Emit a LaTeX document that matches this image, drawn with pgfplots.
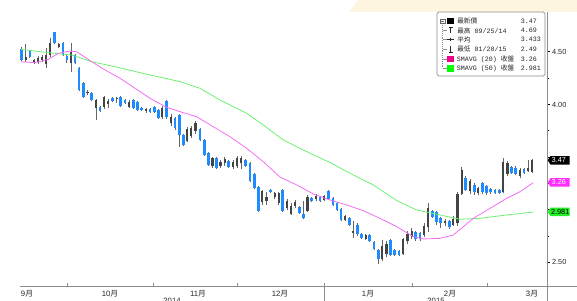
\documentclass[border=0pt]{standalone}
\usepackage{pgfplots}
\pgfplotsset{compat=1.18}
\usepackage{pgfplotstable}
\usepackage{fontspec}
\setmainfont{Liberation Sans}
\setmonofont{Liberation Mono}
\newfontfamily\cjk{Noto Sans CJK TC}
\definecolor{candleblue}{HTML}{1E8CFF}
\definecolor{candleup}{HTML}{444444}
\definecolor{wick}{HTML}{666666}
\definecolor{maA}{HTML}{F46EF4}
\definecolor{maB}{HTML}{6EEE6E}
\definecolor{tagA}{HTML}{FF2EFF}
\definecolor{tagB}{HTML}{22F022}
\definecolor{cream}{HTML}{FDF5E0}
\definecolor{axgray}{HTML}{8C8C8C}
\definecolor{txt}{HTML}{262626}
\newcommand\tickfont{\fontsize{5.8}{6.5}\selectfont}
\newcommand\ytickfont{\fontsize{5.5}{6.2}\selectfont}
\newcommand\legfont{\fontsize{5}{5.6}\selectfont\ttfamily}

% x = pixel position of the candle, o h l c = open high low close
\pgfplotstableread{
x o h l c
21.7 4.53 4.55 4.41 4.42
25.8 4.42 4.57 4.40 4.45
29.9 4.51 4.52 4.44 4.45
34.0 4.39 4.43 4.38 4.42
38.1 4.40 4.46 4.38 4.44
42.2 4.42 4.47 4.40 4.45
46.3 4.38 4.54 4.35 4.47
50.4 4.47 4.63 4.45 4.58
54.5 4.69 4.69 4.57 4.58
58.6 4.55 4.58 4.54 4.57
63.0 4.58 4.59 4.46 4.47
66.9 4.46 4.47 4.39 4.42
71.0 4.39 4.58 4.31 4.50
75.0 4.47 4.48 4.38 4.39
79.0 4.35 4.36 4.13 4.14
83.3 4.20 4.21 4.06 4.07
87.5 4.11 4.14 4.09 4.12
91.7 4.11 4.12 4.03 4.04
96.0 3.97 4.05 3.85 4.04
100.0 3.98 3.99 3.93 3.94
104.3 3.98 4.08 3.96 4.07
108.3 4.00 4.05 3.97 4.03
112.7 4.06 4.07 4.02 4.03
116.7 4.05 4.07 4.01 4.06
120.7 4.07 4.08 3.98 3.99
125.0 4.04 4.05 4.00 4.01
129.3 3.98 4.04 3.97 4.02
133.3 4.04 4.05 3.96 3.97
137.5 4.02 4.03 3.94 3.95
141.7 3.97 3.98 3.94 3.95
146.0 3.94 3.97 3.92 3.96
150.0 3.96 3.97 3.92 3.93
154.3 3.98 3.99 3.92 3.93
158.3 3.95 3.96 3.86 3.87
162.3 3.88 3.99 3.86 3.97
166.7 4.03 4.04 3.86 3.88
171.0 3.82 3.91 3.80 3.88
175.0 3.87 3.88 3.76 3.78
179.3 3.90 3.91 3.60 3.71
183.3 3.71 3.72 3.61 3.62
187.3 3.65 3.79 3.64 3.77
191.3 3.70 3.80 3.68 3.78
195.5 3.75 3.84 3.72 3.82
200.0 3.77 3.78 3.65 3.66
204.3 3.66 3.67 3.51 3.52
208.3 3.54 3.55 3.42 3.43
212.5 3.42 3.50 3.40 3.49
216.5 3.49 3.50 3.39 3.40
220.5 3.42 3.47 3.40 3.45
224.7 3.44 3.50 3.42 3.48
228.7 3.46 3.47 3.40 3.41
233.0 3.41 3.47 3.39 3.45
237.0 3.42 3.51 3.40 3.49
241.3 3.44 3.51 3.39 3.49
245.3 3.47 3.48 3.41 3.42
250.0 3.44 3.45 3.26 3.27
254.3 3.34 3.35 3.20 3.21
258.3 3.22 3.23 2.98 2.99
262.3 3.07 3.19 3.05 3.18
266.5 3.08 3.17 3.05 3.12
270.7 3.19 3.20 3.16 3.17
274.8 3.12 3.17 3.10 3.16
278.8 3.06 3.17 3.05 3.16
282.8 3.19 3.20 2.98 2.99
287.0 3.02 3.10 3.00 3.08
291.2 2.96 3.06 2.95 3.04
295.3 3.04 3.09 3.02 3.07
299.3 3.03 3.04 2.96 2.97
303.3 2.96 3.08 2.91 2.92
307.5 2.99 3.14 2.98 3.12
311.7 3.11 3.12 3.07 3.08
316.0 3.10 3.15 3.08 3.13
320.0 3.12 3.13 3.07 3.08
324.3 3.09 3.14 3.08 3.13
328.7 3.18 3.19 3.09 3.10
333.0 3.11 3.12 3.04 3.05
337.0 3.06 3.07 2.99 3.00
341.0 3.01 3.02 2.89 2.90
345.2 2.90 2.95 2.89 2.94
349.3 2.92 2.93 2.85 2.86
353.3 2.78 2.89 2.73 2.80
357.3 2.86 2.87 2.75 2.77
361.5 2.77 2.78 2.72 2.73
365.7 2.72 2.77 2.71 2.76
369.8 2.76 2.77 2.69 2.70
374.0 2.69 2.70 2.62 2.63
378.2 2.62 2.63 2.49 2.53
382.3 2.53 2.71 2.51 2.66
386.5 2.58 2.70 2.55 2.68
390.7 2.71 2.72 2.56 2.57
394.8 2.62 2.63 2.56 2.57
399.0 2.61 2.62 2.56 2.57
403.2 2.58 2.73 2.57 2.72
407.5 2.70 2.80 2.68 2.77
411.7 2.74 2.83 2.72 2.80
415.8 2.79 2.80 2.70 2.72
420.0 2.78 2.79 2.70 2.72
424.2 2.76 2.87 2.74 2.85
428.3 2.84 3.06 2.79 3.02
432.5 2.99 3.00 2.92 2.93
436.7 2.98 2.99 2.86 2.88
440.8 2.92 2.93 2.83 2.87
445.0 2.87 2.91 2.85 2.89
449.2 2.89 2.90 2.82 2.84
453.3 2.86 2.94 2.85 2.91
457.5 2.87 3.17 2.85 3.15
461.7 3.15 3.41 3.14 3.38
465.8 3.30 3.32 3.18 3.19
470.0 3.18 3.29 3.15 3.27
474.2 3.24 3.25 3.14 3.17
478.3 3.16 3.22 3.14 3.21
482.5 3.25 3.26 3.15 3.17
486.7 3.23 3.24 3.14 3.16
490.8 3.20 3.21 3.15 3.17
495.0 3.19 3.20 3.15 3.16
499.2 3.19 3.20 3.15 3.16
503.3 3.17 3.49 3.16 3.45
507.5 3.34 3.46 3.32 3.44
511.7 3.41 3.42 3.34 3.35
515.8 3.40 3.42 3.33 3.34
520.0 3.32 3.40 3.30 3.38
524.0 3.39 3.40 3.34 3.35
528.2 3.37 3.47 3.36 3.40
532.3 3.36 3.48 3.35 3.47
}\candles

\pgfplotstableread{
x v
21 4.406
35 4.397
48.3 4.429
58.3 4.486
70 4.508
76.7 4.501
81.7 4.470
91.7 4.406
105 4.328
120 4.249
135 4.154
150 4.059
166.7 3.973
180 3.932
196.7 3.884
213.3 3.789
230 3.694
246.7 3.584
263.3 3.457
280 3.311
296.7 3.236
313.3 3.150
330 3.093
346.7 3.046
363.3 2.991
380 2.919
396.7 2.840
413.3 2.745
423 2.723
440 2.729
453.3 2.761
463.3 2.840
473.3 2.919
490 3.014
506.7 3.109
520 3.172
533.3 3.258
}\smaA

\pgfplotstableread{
x v
21 4.524
48.3 4.492
71.7 4.470
91.7 4.406
115 4.359
150 4.280
180 4.217
200 4.154
220 4.043
246.7 3.916
263.3 3.805
283.3 3.663
306.7 3.552
330 3.449
353.3 3.330
373.3 3.236
396.7 3.088
416.7 2.998
440 2.951
460 2.910
480 2.919
506.7 2.951
533.3 2.979
}\smaB

\begin{document}
\begin{tikzpicture}
\useasboundingbox (0,0) rectangle (432.75pt,225pt);
% cream band at the top
\begin{scope}[x=0.75pt,y=-0.75pt,yshift=225pt]
\fill[cream] (349,12) -- (358,0) -- (577,0) -- (577,12) -- cycle;
\end{scope}
\begin{axis}[
  at={(15pt,10.5pt)}, anchor=south west,
  scale only axis, width=395.25pt, height=205.5pt,
  xmin=20, xmax=547, ymin=2.2764, ymax=4.8784,
  axis x line*=bottom, axis y line*=right,
  axis line style={axgray, line width=0.6pt},
  clip=false,
  xtick={67,153,237,324,412,487}, xticklabels={},
  xtick align=inside,
  x tick style={axgray, line width=0.6pt},
  major tick length=2.3pt, minor tick length=1.6pt,
  extra x ticks={27,110,198,280,368,450,532},
  extra x tick labels={9{\cjk 月},10{\cjk 月},11{\cjk 月},12{\cjk 月},1{\cjk 月},2{\cjk 月},3{\cjk 月}},
  extra x tick style={major tick length=0pt, tick style={draw=none}},
  xticklabel style={font=\tickfont, text=txt, yshift=0.6pt},
  ytick={2.5,3,3.5,4,4.5},
  yticklabels={2.50,,,4.00,4.50},
  minor ytick={2.75,3.25,3.75,4.25},
  ytick align=outside,
  y tick style={black, line width=0.6pt},
  minor tick style={axgray, line width=0.5pt},
  yticklabel pos=right,
  yticklabel style={font=\ytickfont, text=txt, anchor=west, xshift=-2pt},
]
% wicks
\addplot[draw=none, mark=none, forget plot,
  error bars/.cd, y dir=plus, y explicit, error mark=none,
  error bar style={draw=wick, solid, line width=0.7pt}]
  table[x=x, y=l, y error expr={\thisrow{h}-\thisrow{l}}] {\candles};
% falling bodies (blue)
\addplot[draw=none, mark=none, forget plot,
  x filter/.expression={\thisrow{c}<\thisrow{o} ? x : nan},
  error bars/.cd, y dir=plus, y explicit, error mark=none,
  error bar style={draw=candleblue, solid, line width=2.1pt}]
  table[x=x, y=c, y error expr={max(\thisrow{o}-\thisrow{c},0.008)}] {\candles};
% rising bodies (dark)
\addplot[draw=none, mark=none, forget plot,
  x filter/.expression={\thisrow{c}<\thisrow{o} ? nan : x},
  error bars/.cd, y dir=plus, y explicit, error mark=none,
  error bar style={draw=candleup, solid, line width=1.6pt}]
  table[x=x, y=o, y error expr={max(\thisrow{c}-\thisrow{o},0.008)}] {\candles};
% moving averages
\addplot[maB, line width=0.6pt, mark=none] table[x=x,y=v] {\smaB};
\addplot[maA, line width=0.6pt, mark=none] table[x=x,y=v] {\smaA};
% extensions of the axis lines
\draw[axgray, line width=0.6pt] (axis cs:547,2.2764) -- ++(0pt,-12pt);
\draw[axgray, line width=0.6pt] (axis cs:547,2.2764) -- ++(25pt,0pt);
\draw[axgray, line width=0.6pt] (axis cs:324,2.2764) -- ++(0pt,-12pt);
% last value tags
\begin{scope}[shift={(axis cs:547,3.47)}]
 \fill[black] (0.5pt,0pt) -- (2.6pt,3.2pt) -- (17pt,3.2pt) -- (17pt,-3.2pt) -- (2.6pt,-3.2pt) -- cycle;
 \node[anchor=west, text=white, inner sep=0pt, font=\ytickfont] at (3.3pt,0pt) {3.47};
\end{scope}
\begin{scope}[shift={(axis cs:547,3.26)}]
 \fill[tagA] (0.5pt,0pt) -- (2.6pt,3.2pt) -- (17pt,3.2pt) -- (17pt,-3.2pt) -- (2.6pt,-3.2pt) -- cycle;
 \node[anchor=west, text=white, inner sep=0pt, font=\ytickfont] at (3.3pt,0pt) {3.26};
\end{scope}
\begin{scope}[shift={(axis cs:547,2.981)}]
 \fill[tagB] (0.5pt,0pt) -- (2.6pt,3.2pt) -- (17pt,3.2pt) -- (17pt,-3.2pt) -- (2.6pt,-3.2pt) -- cycle;
 \node[anchor=west, text=black, inner sep=0pt, font=\ytickfont] at (2.8pt,0pt) {2.981};
\end{scope}
\end{axis}
% year labels (cut by the lower edge) and legend
\begin{scope}[x=0.75pt,y=-0.75pt,yshift=225pt]
\node[anchor=north, inner sep=0pt, font=\tickfont, text=txt] at (172,297.8) {2014};
\node[anchor=north, inner sep=0pt, font=\tickfont, text=txt] at (436,297.8) {2015};
\filldraw[fill=white, draw=axgray, line width=0.6pt, rounded corners=1.2pt] (437,12) rectangle (545,76);
% tree
\draw[axgray, line width=0.4pt, densely dotted] (442.7,23.5) -- (442.7,68.3);
\foreach \r in {30.7,39.5,49.3,59,68.3} \draw[axgray, line width=0.4pt] (442.7,\r) -- (446.5,\r);
\draw[wick, line width=0.4pt, fill=white] (440.5,19.1) rectangle (444.9,23.5);
\draw[wick, line width=0.4pt] (441.3,21.3) -- (444.1,21.3);
\fill[black] (447.3,18.3) rectangle (454,24.3);
\draw[txt, line width=0.5pt] (449,27.8) -- (452.6,27.8) (450.8,27.8) -- (450.8,33.4);
\draw[txt, line width=0.5pt] (446.8,39.5) -- (454,39.5) (450.4,37.7) -- (450.4,41.3);
\draw[txt, line width=0.5pt] (449,52) -- (452.6,52) (450.8,52) -- (450.8,46.4);
\fill[magenta] (447.3,55.6) rectangle (454,62.4);
\fill[green] (447.3,64.9) rectangle (454,71.7);
\begin{scope}[every node/.style={anchor=west, inner sep=0pt, text=txt, font=\legfont}]
\node at (457,21.3) {\cjk 最新價};
\node at (457,30.7) {{\cjk 最高} 09/25/14};
\node at (457,39.5) {\cjk 平均};
\node at (457,49.3) {{\cjk 最低} 01/20/15};
\node at (456.7,59) {SMAVG (20) {\cjk 收盤}};
\node at (456.7,68.3) {SMAVG (50) {\cjk 收盤}};
\node at (520.7,21.3) {3.47};
\node at (520.7,30.7) {4.69};
\node at (520.7,39.5) {3.433};
\node at (520.7,49.3) {2.49};
\node at (520.7,59) {3.26};
\node at (520.7,68.3) {2.981};
\end{scope}
\end{scope}
\end{tikzpicture}
\end{document}
